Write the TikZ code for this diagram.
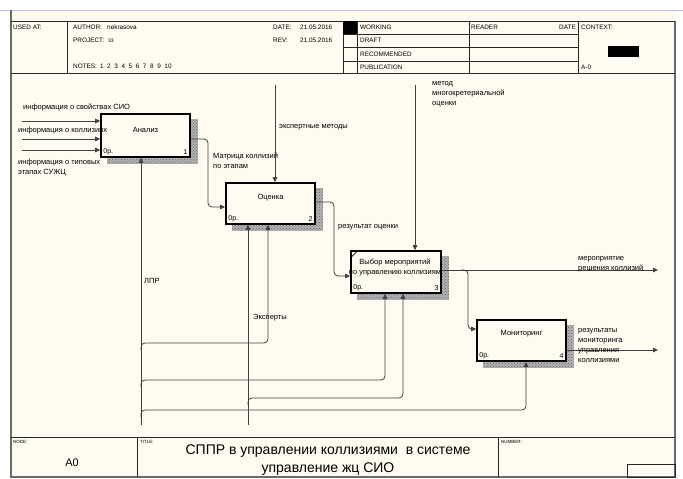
\documentclass[tikz,border=0pt]{standalone}
\usepackage{fontspec}
\setmainfont{Liberation Sans}
\usetikzlibrary{arrows.meta,patterns}
\definecolor{paper}{HTML}{FFFBF0}
\definecolor{lnc}{HTML}{404040}
\definecolor{frm}{HTML}{6A6A6A}
\pgfdeclarelayer{paperlayer}
\pgfdeclarelayer{shadowlayer}
\pgfsetlayers{paperlayer,shadowlayer,main}
\begin{document}
\begin{tikzpicture}[x=1pt,y=-1pt,
  hdr/.style={font=\fontsize{6.4}{7}\selectfont, inner sep=0, anchor=west},
  tiny/.style={font=\fontsize{4.5}{5}\selectfont, inner sep=0, anchor=west},
  lbl/.style={font=\fontsize{7.5}{10}\selectfont, inner sep=0, anchor=west, align=left},
  boxtxt/.style={font=\fontsize{7.5}{10}\selectfont, inner sep=0, align=center},
  corner/.style={font=\fontsize{7}{8}\selectfont, inner sep=0},
  act/.style={draw=black, line width=1.6pt, fill=paper, inner sep=0},
  arr/.style={draw=lnc, line width=0.8pt, -{Triangle[length=5pt,width=4.5pt]}},
  grid/.style={draw=black!85, line width=0.6pt}]
\useasboundingbox (0,0) rectangle (683,479);
\begin{pgfonlayer}{paperlayer}
  \fill[white] (0,0) rectangle (683,479);
  \fill[paper] (11,10) rectangle (675,478);
  \draw[blue!25, line width=1pt] (0,10) -- (683,10);
\end{pgfonlayer}
% frame
\draw[frm, line width=1.4pt] (11,10) -- (11,477) -- (675,477) -- (675,21);
\draw[grid] (11,21) -- (675,21);
\draw[grid] (11,73) -- (675,73);
\draw[grid] (11,437) -- (675,437);
\foreach \x in {67,343,357,469,578} \draw[grid] (\x,21) -- (\x,73);
\foreach \y in {34,47,61} \draw[grid] (343,\y) -- (578,\y);
\draw[grid] (137,437) -- (137,477);
\draw[grid] (498,437) -- (498,477);
\draw[grid] (627,464) rectangle (675,477);
\fill[black] (343,21) rectangle (357,34);
\fill[black] (608,46) rectangle (639,57);
% header text
\node[hdr] (usedat) at (13,27) {USED AT:};
\node[hdr] (author) at (73,27) {\makebox[34pt][l]{AUTHOR:}nekrasova};
\node[hdr] (project) at (73,40) {\makebox[35pt][l]{PROJECT:}{\fontsize{5}{6}\selectfont 33}};
\node[hdr] (notes) at (73,66) {NOTES:\hspace{3pt}1\hspace{3.6pt}2\hspace{3.6pt}3\hspace{3.6pt}4\hspace{3.6pt}5\hspace{3.6pt}6\hspace{3.6pt}7\hspace{3.6pt}8\hspace{3.6pt}9\hspace{3.6pt}10};
\node[hdr] (date) at (273,27) {\makebox[27pt][l]{DATE:}21.05.2016};
\node[hdr] (rev) at (273,40) {\makebox[27pt][l]{REV:}21.05.2016};
\node[hdr] (working) at (360,27) {WORKING};
\node[hdr] (draft) at (360,40) {DRAFT};
\node[hdr] (recom) at (360,54) {RECOMMENDED};
\node[hdr] (publ) at (360,67) {PUBLICATION};
\node[hdr] (reader) at (471,27) {READER};
\node[hdr, anchor=east] (rdate) at (576,27) {DATE};
\node[hdr] (context) at (581,27) {CONTEXT:};
\node[hdr] (aminus) at (581,67) {A-0};
% footer text
\node[tiny] (nodelbl) at (13,442) {NODE:};
\node[tiny] (titlelbl) at (140,442) {TITLE:};
\node[tiny] (numberlbl) at (501,442) {NUMBER:};
\node[font=\fontsize{11}{12}\selectfont, inner sep=0] (a0) at (72,463) {A0};
\node[font=\fontsize{14}{18.5}\selectfont, inner sep=0, align=center] (title) at (328,460) {СППР в управлении коллизиями\ \ в системе\\управление жц СИО};
% activity boxes
\node[act, minimum width=89pt, minimum height=43pt] (b1) at (145.5,135.5) {};
\node[act, minimum width=89pt, minimum height=41pt] (b2) at (270.5,203.5) {};
\node[act, minimum width=90pt, minimum height=42pt] (b3) at (396,272) {};
\node[act, minimum width=89pt, minimum height=41pt] (b4) at (521.5,340.5) {};
\begin{pgfonlayer}{shadowlayer}
  \foreach \b in {b1,b2,b3,b4} {
    \fill[black!30] ([shift={(7,6)}]\b.south west) rectangle ([shift={(7,6)}]\b.north east);
    \fill[pattern=crosshatch dots, pattern color=black!60] ([shift={(7,6)}]\b.south west) rectangle ([shift={(7,6)}]\b.north east);
  }
\end{pgfonlayer}
\draw[black, line width=0.8pt] ([shift={(1,7)}]b3.north west) -- ([shift={(7,1)}]b3.north west);
\node[boxtxt] (t1) at ([yshift=-17pt]b1.north) {Анализ};
\node[boxtxt] (t2) at ([yshift=-15pt]b2.north) {Оценка};
\node[boxtxt] (t3) at (395,267) {Выбор мероприятий\\по управлению коллизиям};
\node[boxtxt] (t4) at ([yshift=-14pt]b4.north) {Мониторинг};
\foreach \b/\n in {b1/1,b2/2,b3/3,b4/4} {
  \node[corner, anchor=west] at ([shift={(3,-6)}]\b.south west) {0р.};
  \node[corner, anchor=east] at ([shift={(-3,-6)}]\b.south east) {\n};
}
% inputs
\coordinate (i1) at (22,121);
\coordinate (i2) at (22,139);
\coordinate (i3) at (22,150);
\draw[arr] (i1) -- (i1 -| b1.west);
\draw[arr] (i2) -- (i2 -| b1.west);
\draw[arr] (i3) -- (i3 -| b1.west);
\node[lbl] (li1) at (23,107) {информация о свойствах СИО};
\node[lbl] (li2) at (18,131) {информация о коллизиях};
\node[lbl] (li3) at (18,168) {информация о типовых\\этапах СУЖЦ};
% b1 -> b2
\draw[arr, rounded corners=4pt] (b1.east |- 0,139) -| (208,207) -- (b2.west |- 0,207);
\node[lbl] (lm) at (213,161) {Матрица коллизий\\по этапам};
% controls
\coordinate (c1) at (275,85);
\draw[arr] (c1) -- (c1 |- b2.north);
\node[lbl] (lc1) at (279,127) {экспертные методы};
\coordinate (c2) at (415,85);
\draw[arr] (c2) -- (c2 |- b3.north);
\node[lbl] (lc2) at (432,94) {метод\\многокретериальной\\оценки};
% b2 -> b3
\draw[arr, rounded corners=4pt] (b2.east |- 0,202) -| (334,276) -- (b3.west |- 0,276);
\node[lbl] (lr) at (338,227) {результат оценки};
% outputs
\coordinate (o1) at (658,270);
\draw[arr] (b3.east |- o1) -- (o1);
\draw[arr, rounded corners=4pt] (461,270) -| (468,329) -- (b4.west |- 0,329);
\node[lbl] (lo1) at (578,264) {мероприятие\\решения коллизий};
\coordinate (o2) at (658,350);
\draw[arr] (b4.east |- o2) -- (o2);
\node[lbl] (lo2) at (578,346) {результаты\\мониторинга\\управления\\коллизиями};
% mechanisms
\coordinate (m1) at (141,425);
\coordinate (m2) at (248,425);
\draw[arr] (m1) -- (m1 |- b1.south);
\draw[arr] (m2) -- (m2 |- b2.south);
\draw[arr, rounded corners=4pt] (141,350) |- (268,343) -- (268,0 |- b2.south);
\draw[arr, rounded corners=4pt] (141,387) |- (385,380) -- (385,0 |- b3.south);
\draw[arr, rounded corners=4pt] (248,405) |- (403,398) -- (403,0 |- b3.south);
\draw[arr, rounded corners=4pt] (141,417) |- (526,410) -- (526,0 |- b4.south);
\node[lbl] (llpr) at (144,281) {ЛПР};
\node[lbl] (lexp) at (253,318) {Эксперты};
\end{tikzpicture}
\end{document}
